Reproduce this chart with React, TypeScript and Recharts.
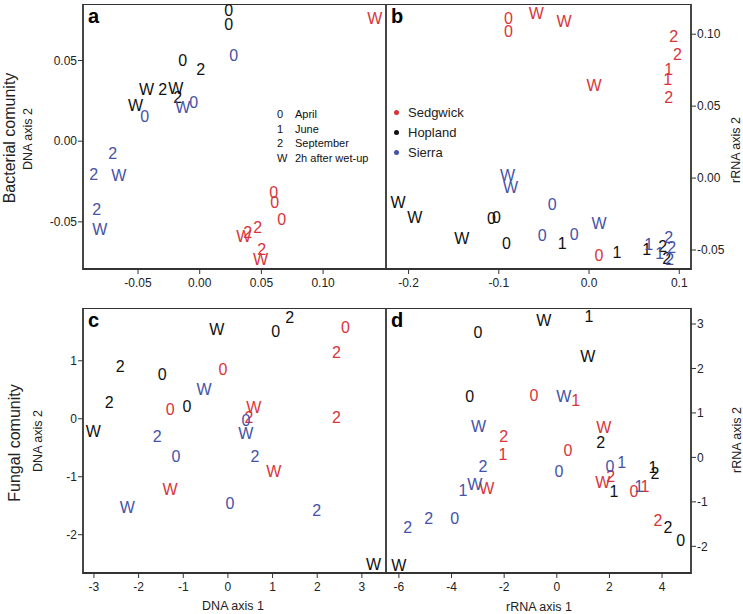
import React from "react";
import { ScatterChart, Scatter, XAxis, YAxis, ReferenceArea } from "recharts";

// site colours
const RED = "#d8353a";
const BLACK = "#111111";
const BLUE = "#4652a8";

// a: bacterial DNA
const aSedgwick = [
  { x: 0.142, y: 0.0758, m: "W" },
  { x: 0.06, y: -0.0317, m: "0" },
  { x: 0.0608, y: -0.0379, m: "0" },
  { x: 0.0665, y: -0.0484, m: "0" },
  { x: 0.047, y: -0.0534, m: "2" },
  { x: 0.0389, y: -0.0565, m: "2" },
  { x: 0.0357, y: -0.059, m: "W" },
  { x: 0.0502, y: -0.0671, m: "2" },
  { x: 0.0494, y: -0.0733, m: "W" },
];
const aHopland = [
  { x: 0.0235, y: 0.0807, m: "0" },
  { x: 0.0235, y: 0.072, m: "0" },
  { x: -0.0138, y: 0.0497, m: "0" },
  { x: 0.0008, y: 0.0447, m: "2" },
  { x: -0.043, y: 0.0323, m: "W" },
  { x: -0.03, y: 0.0323, m: "2" },
  { x: -0.0194, y: 0.0329, m: "W" },
  { x: -0.0178, y: 0.0273, m: "2" },
  { x: -0.0519, y: 0.0224, m: "W" },
];
const aSierra = [
  { x: 0.0276, y: 0.0528, m: "0" },
  { x: -0.0049, y: 0.0242, m: "0" },
  { x: -0.0138, y: 0.0211, m: "W" },
  { x: -0.0446, y: 0.0155, m: "0" },
  { x: -0.0705, y: -0.0075, m: "2" },
  { x: -0.0859, y: -0.0205, m: "2" },
  { x: -0.0656, y: -0.0211, m: "W" },
  { x: -0.0835, y: -0.0422, m: "2" },
  { x: -0.081, y: -0.0547, m: "W" },
];

// b: bacterial rRNA
const bSedgwick = [
  { x: -0.0893, y: 0.111, m: "0" },
  { x: -0.0893, y: 0.102, m: "0" },
  { x: -0.0584, y: 0.1146, m: "W" },
  { x: -0.0276, y: 0.109, m: "W" },
  { x: 0.0937, y: 0.0986, m: "2" },
  { x: 0.0981, y: 0.0861, m: "2" },
  { x: 0.0882, y: 0.0757, m: "1" },
  { x: 0.0871, y: 0.0688, m: "1" },
  { x: 0.0882, y: 0.0563, m: "2" },
  { x: 0.0055, y: 0.0646, m: "W" },
  { x: 0.011, y: -0.0535, m: "0" },
];
const bHopland = [
  { x: -0.2117, y: -0.0167, m: "W" },
  { x: -0.193, y: -0.0271, m: "W" },
  { x: -0.108, y: -0.0278, m: "0" },
  { x: -0.1025, y: -0.0271, m: "0" },
  { x: -0.1411, y: -0.0417, m: "W" },
  { x: -0.0915, y: -0.0458, m: "0" },
  { x: -0.0298, y: -0.0458, m: "1" },
  { x: 0.0309, y: -0.0514, m: "1" },
  { x: 0.064, y: -0.0493, m: "1" },
  { x: 0.0816, y: -0.0479, m: "2" },
  { x: 0.086, y: -0.0556, m: "2" },
];
const bSierra = [
  { x: -0.0904, y: 0.0021, m: "W" },
  { x: -0.0871, y: -0.0063, m: "W" },
  { x: -0.0408, y: -0.0181, m: "0" },
  { x: -0.0518, y: -0.0396, m: "0" },
  { x: -0.0165, y: -0.0389, m: "0" },
  { x: 0.011, y: -0.0313, m: "W" },
  { x: 0.0662, y: -0.0465, m: "1" },
  { x: 0.0882, y: -0.041, m: "2" },
  { x: 0.0915, y: -0.0486, m: "2" },
  { x: 0.0783, y: -0.0521, m: "1" },
  { x: 0.0893, y: -0.0569, m: "2" },
];

// c: fungal DNA
const cSedgwick = [
  { x: 2.634, y: 1.569, m: "0" },
  { x: 2.433, y: 1.138, m: "2" },
  { x: -0.112, y: 0.845, m: "0" },
  { x: -1.295, y: 0.155, m: "0" },
  { x: 0.58, y: 0.19, m: "W" },
  { x: 0.469, y: 0.017, m: "2" },
  { x: 2.433, y: 0.017, m: "2" },
  { x: 1.027, y: -0.914, m: "W" },
  { x: -1.295, y: -1.224, m: "W" },
];
const cHopland = [
  { x: -0.246, y: 1.534, m: "W" },
  { x: 1.071, y: 1.5, m: "0" },
  { x: 1.384, y: 1.741, m: "2" },
  { x: -2.411, y: 0.897, m: "2" },
  { x: -1.473, y: 0.759, m: "0" },
  { x: -2.656, y: 0.276, m: "2" },
  { x: -0.915, y: 0.207, m: "0" },
  { x: -3.013, y: -0.224, m: "W" },
  { x: 3.259, y: -2.517, m: "W" },
];
const cSierra = [
  { x: -0.536, y: 0.5, m: "W" },
  { x: 0.402, y: -0.034, m: "0" },
  { x: 0.402, y: -0.259, m: "W" },
  { x: -1.585, y: -0.31, m: "2" },
  { x: -1.161, y: -0.655, m: "0" },
  { x: 0.603, y: -0.655, m: "2" },
  { x: -2.254, y: -1.534, m: "W" },
  { x: 0.045, y: -1.466, m: "0" },
  { x: 1.987, y: -1.586, m: "2" },
];

// d: fungal rRNA
const dSedgwick = [
  { x: -0.87, y: 1.4, m: "0" },
  { x: 0.72, y: 1.27, m: "1" },
  { x: -2.02, y: 0.48, m: "2" },
  { x: -2.05, y: 0.07, m: "1" },
  { x: 1.79, y: 0.68, m: "W" },
  { x: 0.42, y: 0.16, m: "0" },
  { x: 1.75, y: -0.57, m: "W" },
  { x: 2.05, y: -0.43, m: "2" },
  { x: 2.93, y: -0.77, m: "0" },
  { x: 3.35, y: -0.66, m: "1" },
  { x: -2.66, y: -0.7, m: "W" },
  { x: 3.84, y: -1.43, m: "2" },
];
const dHopland = [
  { x: -3.0, y: 2.81, m: "0" },
  { x: -0.49, y: 3.08, m: "W" },
  { x: 1.22, y: 3.17, m: "1" },
  { x: 1.18, y: 2.26, m: "W" },
  { x: -3.31, y: 1.36, m: "0" },
  { x: 1.67, y: 0.34, m: "2" },
  { x: 3.65, y: -0.23, m: "1" },
  { x: 3.73, y: -0.36, m: "2" },
  { x: 2.17, y: -0.77, m: "1" },
  { x: 4.22, y: -1.58, m: "2" },
  { x: 4.71, y: -1.86, m: "0" },
  { x: -6.0, y: -2.44, m: "W" },
];
const dSierra = [
  { x: 0.27, y: 1.38, m: "W" },
  { x: -2.97, y: 0.7, m: "W" },
  { x: -2.81, y: -0.2, m: "2" },
  { x: 0.08, y: -0.32, m: "0" },
  { x: 2.02, y: -0.2, m: "0" },
  { x: 2.47, y: -0.11, m: "1" },
  { x: 3.12, y: -0.66, m: "1" },
  { x: -3.57, y: -0.75, m: "1" },
  { x: -3.12, y: -0.61, m: "W" },
  { x: -5.67, y: -1.58, m: "2" },
  { x: -4.87, y: -1.38, m: "2" },
  { x: -3.88, y: -1.38, m: "0" },
];

const monthLegend = [
  ["0", "April"],
  ["1", "June"],
  ["2", "September"],
  ["W", "2h after wet-up"],
];
const siteLegend = [
  ["Sedgwick", RED],
  ["Hopland", BLACK],
  ["Sierra", BLUE],
];

const FONT = "'Liberation Sans', Arial, Helvetica, sans-serif";

const glyph = (color: string) => (props: any) => (
  <text
    x={props.cx}
    y={props.cy}
    fill={color}
    fontSize={16}
    fontFamily={FONT}
    textAnchor="middle"
    dominantBaseline="central"
  >
    {props.payload.m}
  </text>
);

type PanelProps = {
  left: number;
  top: number;
  width: number;
  height: number;
  xDomain: [number, number];
  yDomain: [number, number];
  xTicks: number[];
  yTicks: number[];
  xDigits: number;
  yDigits: number;
  yRight?: boolean;
  yWidth: number;
  sedgwick: any[];
  hopland: any[];
  sierra: any[];
};

function Panel(p: PanelProps) {
  const tickStyle = { fontSize: 12, fill: "#222", fontFamily: FONT };
  return (
    <div style={{ position: "absolute", left: p.left, top: p.top }}>
      <ScatterChart width={p.width} height={p.height} margin={{ top: 0, right: 0, bottom: 0, left: 0 }}>
        <XAxis
          type="number"
          dataKey="x"
          domain={p.xDomain}
          ticks={p.xTicks}
          interval={0}
          allowDataOverflow
          axisLine={false}
          tickLine={{ stroke: "#333" }}
          tickSize={5}
          tickMargin={4}
          height={31}
          tick={tickStyle}
          tickFormatter={(v: number) => v.toFixed(p.xDigits)}
        />
        <YAxis
          type="number"
          dataKey="y"
          orientation={p.yRight ? "right" : "left"}
          domain={p.yDomain}
          ticks={p.yTicks}
          interval={0}
          allowDataOverflow
          axisLine={false}
          tickLine={{ stroke: "#333" }}
          tickSize={5}
          tickMargin={1}
          width={p.yWidth}
          tick={tickStyle}
          tickFormatter={(v: number) => v.toFixed(p.yDigits)}
        />
        <ReferenceArea
          x1={p.xDomain[0]}
          x2={p.xDomain[1]}
          y1={p.yDomain[0]}
          y2={p.yDomain[1]}
          fill="none"
          stroke="#333"
          strokeWidth={1.8}
          ifOverflow="visible"
        />
        <Scatter name="Sedgwick" data={p.sedgwick} fill={RED} shape={glyph(RED)} isAnimationActive={false} />
        <Scatter name="Hopland" data={p.hopland} fill={BLACK} shape={glyph(BLACK)} isAnimationActive={false} />
        <Scatter name="Sierra" data={p.sierra} fill={BLUE} shape={glyph(BLUE)} isAnimationActive={false} />
      </ScatterChart>
    </div>
  );
}

const abs = (left: number, top: number, extra: React.CSSProperties = {}): React.CSSProperties => ({
  position: "absolute",
  left,
  top,
  whiteSpace: "nowrap",
  lineHeight: 1,
  ...extra,
});

function VText({ cx, cy, size, children }: { cx: number; cy: number; size: number; children: React.ReactNode }) {
  return (
    <div
      style={abs(cx, cy, {
        fontSize: size,
        transform: "translate(-50%, -50%) rotate(-90deg)",
        color: "#222",
      })}
    >
      {children}
    </div>
  );
}

export default function App() {
  return (
    <div style={{ position: "absolute", left: 0, top: 0, width: 743, height: 614, background: "#fff", fontFamily: FONT }}>
      <Panel
        left={0} top={4} width={386} height={296}
        xDomain={[-0.0946, 0.151]} yDomain={[-0.0792, 0.085]}
        xTicks={[-0.05, 0, 0.05, 0.1]} yTicks={[-0.05, 0, 0.05]}
        xDigits={2} yDigits={2} yWidth={83}
        sedgwick={aSedgwick} hopland={aHopland} sierra={aSierra}
      />
      <Panel
        left={386} top={4} width={357} height={296}
        xDomain={[-0.225, 0.113]} yDomain={[-0.0632, 0.121]}
        xTicks={[-0.2, -0.1, 0, 0.1]} yTicks={[-0.05, 0, 0.05, 0.1]}
        xDigits={1} yDigits={2} yRight yWidth={52}
        sedgwick={bSedgwick} hopland={bHopland} sierra={bSierra}
      />
      <Panel
        left={0} top={308} width={386} height={296}
        xDomain={[-3.245, 3.54]} yDomain={[-2.66, 1.91]}
        xTicks={[-3, -2, -1, 0, 1, 2, 3]} yTicks={[-2, -1, 0, 1]}
        xDigits={0} yDigits={0} yWidth={83}
        sedgwick={cSedgwick} hopland={cHopland} sierra={cSierra}
      />
      <Panel
        left={386} top={308} width={357} height={296}
        xDomain={[-6.49, 5.1]} yDomain={[-2.6, 3.36]}
        xTicks={[-6, -4, -2, 0, 2, 4]} yTicks={[-2, -1, 0, 1, 2, 3]}
        xDigits={0} yDigits={0} yRight yWidth={52}
        sedgwick={dSedgwick} hopland={dHopland} sierra={dSierra}
      />

      {/* panel letters */}
      <div style={abs(88, 6, { fontSize: 20, fontWeight: "bold" })}>a</div>
      <div style={abs(391, 6, { fontSize: 20, fontWeight: "bold" })}>b</div>
      <div style={abs(88, 310, { fontSize: 20, fontWeight: "bold" })}>c</div>
      <div style={abs(391, 310, { fontSize: 20, fontWeight: "bold" })}>d</div>

      {/* month legend in a */}
      {monthLegend.map(([k, label], i) => (
        <div key={k} style={abs(277, 109 + i * 14.7, { fontSize: 11, color: "#111" })}>
          <span style={{ display: "inline-block", width: 18 }}>{k}</span>
          {label}
        </div>
      ))}

      {/* site legend in b */}
      {siteLegend.map(([label, color], i) => (
        <div key={label} style={abs(394, 106 + i * 20, { fontSize: 13, color: "#222" })}>
          <span
            style={{
              display: "inline-block",
              width: 5,
              height: 5,
              borderRadius: 3,
              background: color,
              marginRight: 9,
              verticalAlign: "middle",
              position: "relative",
              top: -1,
            }}
          />
          {label}
        </div>
      ))}

      {/* axis titles */}
      <VText cx={10} cy={138} size={16}>Bacterial comunity</VText>
      <VText cx={28} cy={139} size={12.5}>DNA axis 2</VText>
      <VText cx={15} cy={443} size={16}>Fungal comunity</VText>
      <VText cx={38} cy={441} size={12.5}>DNA axis 2</VText>
      <VText cx={736} cy={150} size={12.5}>rRNA axis 2</VText>
      <VText cx={737} cy={440} size={12.5}>rRNA axis 2</VText>
      <div style={abs(233, 606, { fontSize: 12.5, transform: "translate(-50%, -50%)", color: "#222" })}>DNA axis 1</div>
      <div style={abs(539, 607, { fontSize: 12.5, transform: "translate(-50%, -50%)", color: "#222" })}>rRNA axis 1</div>
    </div>
  );
}
